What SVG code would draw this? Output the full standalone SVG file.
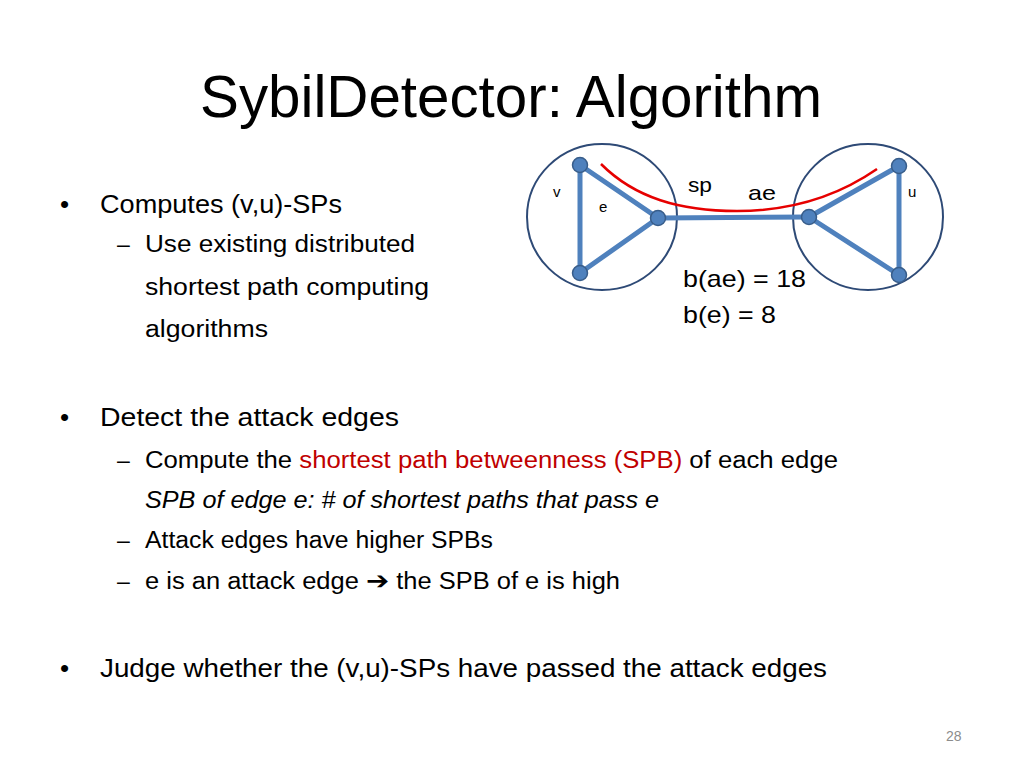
<svg xmlns="http://www.w3.org/2000/svg" width="1024" height="768" viewBox="0 0 1024 768">
<style>
text{font-family:"Liberation Sans",Arial,sans-serif;fill:#000}
.t1{font-size:26px}
.t2{font-size:23px}
.red{fill:#C00000}
.lbl{font-size:15px}
.big{font-size:24px}
.circ{fill:none;stroke:#2E4A76;stroke-width:2}
.edge{stroke:#4F81BD;stroke-width:5;stroke-linecap:round}
.node{fill:#4F81BD;stroke:#385D8A;stroke-width:1.5}
</style>
<rect width="1024" height="768" fill="#fff"/>
<text x="200" y="117" font-size="59" textLength="622" lengthAdjust="spacingAndGlyphs">SybilDetector: Algorithm</text>

<g id="bullets">
<text x="60" y="213" class="t1">•</text>
<text x="100" y="213" class="t1" textLength="242" lengthAdjust="spacingAndGlyphs">Computes (v,u)-SPs</text>
<text x="117" y="252" class="t2">–</text>
<text x="145" y="252" class="t2" textLength="270" lengthAdjust="spacingAndGlyphs">Use existing distributed</text>
<text x="145" y="295" class="t2" textLength="284" lengthAdjust="spacingAndGlyphs">shortest path computing</text>
<text x="145" y="337" class="t2" textLength="123" lengthAdjust="spacingAndGlyphs">algorithms</text>

<text x="60" y="426" class="t1">•</text>
<text x="100" y="426" class="t1" textLength="299" lengthAdjust="spacingAndGlyphs">Detect the attack edges</text>
<text x="117" y="468" class="t2">–</text>
<text x="145" y="468" class="t2" textLength="693" lengthAdjust="spacingAndGlyphs">Compute the <tspan class="red">shortest path betweenness (SPB)</tspan> of each edge</text>
<text x="145" y="508" class="t2" font-style="italic" textLength="514" lengthAdjust="spacingAndGlyphs">SPB of edge e: # of shortest paths that pass e</text>
<text x="117" y="548" class="t2">–</text>
<text x="145" y="548" class="t2" textLength="348" lengthAdjust="spacingAndGlyphs">Attack edges have higher SPBs</text>
<text x="117" y="589" class="t2">–</text>
<text x="145" y="589" class="t2" textLength="475" lengthAdjust="spacingAndGlyphs">e is an attack edge <tspan font-family="DejaVu Sans" font-weight="bold" font-size="25">➔</tspan> the SPB of e is high</text>

<text x="60" y="677" class="t1">•</text>
<text x="100" y="677" class="t1" textLength="727" lengthAdjust="spacingAndGlyphs">Judge whether the (v,u)-SPs have passed the attack edges</text>
</g>

<text x="946" y="741" font-size="14" style="fill:#8C8C8C">28</text>

<g id="group-v"><ellipse class="circ" cx="602" cy="217" rx="75" ry="73"/></g>
<g id="group-u"><ellipse class="circ" cx="868" cy="217" rx="75" ry="73"/></g>

<g id="connectors">
<line class="edge" x1="580" y1="165" x2="580" y2="273"/>
<line class="edge" x1="580" y1="165" x2="658" y2="218"/>
<line class="edge" x1="580" y1="273" x2="658" y2="218"/>
<line class="edge" x1="658" y1="218" x2="809" y2="217"/>
<line class="edge" x1="809" y1="217" x2="899" y2="166"/>
<line class="edge" x1="809" y1="217" x2="899" y2="275"/>
<line class="edge" x1="899" y1="166" x2="899" y2="275"/>
<path d="M601,164 C635,198 680,211 737,211 C790,211 838,196 877,169" fill="none" stroke="#E60000" stroke-width="2.5"/>
</g>

<g id="n1"><circle class="node" cx="580" cy="165" r="7.5"/></g>
<g id="n2"><circle class="node" cx="580" cy="273" r="7.5"/></g>
<g id="n3"><circle class="node" cx="658" cy="218" r="7.5"/></g>
<g id="n4"><circle class="node" cx="809" cy="217" r="7.5"/></g>
<g id="n5"><circle class="node" cx="899" cy="166" r="7.5"/></g>
<g id="n6"><circle class="node" cx="899" cy="275" r="7.5"/></g>

<g id="labels">
<text x="553" y="197" class="lbl">v</text>
<text x="599" y="212" class="lbl">e</text>
<text x="908" y="197" class="lbl">u</text>
<text x="688" y="192" font-size="21" textLength="24" lengthAdjust="spacingAndGlyphs">sp</text>
<text x="748" y="200" font-size="21" textLength="28" lengthAdjust="spacingAndGlyphs">ae</text>
<text x="683" y="287" class="big" textLength="123" lengthAdjust="spacingAndGlyphs">b(ae) = 18</text>
<text x="683" y="323" class="big" textLength="93" lengthAdjust="spacingAndGlyphs">b(e) = 8</text>
</g>
</svg>
